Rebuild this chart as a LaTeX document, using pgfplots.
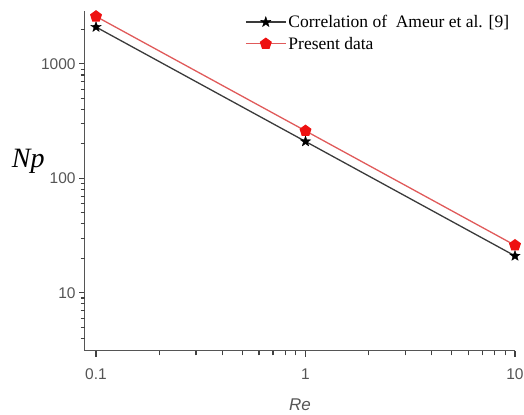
\documentclass[border=0pt]{standalone}
\usepackage{fontspec}
\setmainfont{Liberation Sans}
\newfontfamily\seriffont{Liberation Serif}
\usepackage{pgfplots}
\pgfplotsset{compat=1.18}
\definecolor{axgray}{HTML}{555555}
\definecolor{tickgray}{HTML}{404040}
\definecolor{lineblack}{HTML}{3A3A3A}
\definecolor{linered}{HTML}{E05A5A}
\definecolor{markred}{HTML}{EE1111}
\pgfdeclareplotmark{fstar}{%
  \pgfpathmoveto{\pgfqpointpolar{90}{1.1\pgfplotmarksize}}%
  \pgfpathlineto{\pgfqpointpolar{126}{0.45\pgfplotmarksize}}%
  \pgfpathlineto{\pgfqpointpolar{162}{1.1\pgfplotmarksize}}%
  \pgfpathlineto{\pgfqpointpolar{198}{0.45\pgfplotmarksize}}%
  \pgfpathlineto{\pgfqpointpolar{234}{1.1\pgfplotmarksize}}%
  \pgfpathlineto{\pgfqpointpolar{270}{0.45\pgfplotmarksize}}%
  \pgfpathlineto{\pgfqpointpolar{306}{1.1\pgfplotmarksize}}%
  \pgfpathlineto{\pgfqpointpolar{342}{0.45\pgfplotmarksize}}%
  \pgfpathlineto{\pgfqpointpolar{18}{1.1\pgfplotmarksize}}%
  \pgfpathlineto{\pgfqpointpolar{54}{0.45\pgfplotmarksize}}%
  \pgfpathclose
  \pgfusepathqfillstroke}
\begin{document}
\begin{tikzpicture}
\begin{axis}[
  scale only axis,
  width=430pt, height=340pt,
  xmode=log, ymode=log,
  xmin=0.0886, xmax=10,
  ymin=3.1, ymax=2900,
  axis x line*=bottom, axis y line*=left,
  axis line style={axgray, line width=1pt},
  every tick/.style={tickgray, line width=1.1pt},
  tick align=outside,
  major tick length=6pt,
  xtick={0.1,1,10}, xticklabels={0.1,1,10},
  ytick={10,100,1000}, yticklabels={10,100,1000},
  extra x ticks={0.2,0.3,0.4,0.5,0.6,0.7,0.8,0.9,2,3,4,5,6,7,8,9},
  extra x tick labels={},
  extra x tick style={major tick length=4.5pt},
  extra y ticks={4,5,6,7,8,9,20,30,40,50,60,70,80,90,200,300,400,500,600,700,800,900,2000},
  extra y tick labels={},
  extra y tick style={major tick length=4.5pt},
  ticklabel style={font=\fontsize{15.5}{17}\selectfont, text=axgray},
  xticklabel style={yshift=-8pt},
  /pgf/number format/assume math mode=true,
  xlabel={\textit{Re}},
  xlabel style={font=\fontsize{17}{19}\selectfont, text=axgray, yshift=-2pt},
  ylabel={\seriffont\itshape Np},
  ylabel style={rotate=-90, font=\fontsize{28}{30}\selectfont, yshift=20pt, xshift=21pt},
  legend style={at={(0.365,1.0)}, anchor=north west, draw=none, fill=none,
    font=\seriffont\fontsize{17.5}{20}\selectfont, row sep=4pt,
    cells={anchor=west}},
  legend image code/.code={\draw[mark repeat=2,mark phase=2,#1] plot coordinates {(0pt,0pt) (20pt,0pt) (40pt,0pt)};},
  clip=false,
]
\addplot[lineblack, line width=1.3pt, mark=fstar, mark size=5pt, mark options={fill=black, draw=black, line width=0.3pt, solid}]
  coordinates {(0.1,2100) (1,210) (10,21)};
\addlegendentry{Correlation of \ Ameur et al. [9]}
\addplot[linered, line width=1.3pt, mark=pentagon*, mark size=5.5pt, mark options={fill=markred, draw=markred}]
  coordinates {(0.1,2600) (1,260) (10,26)};
\addlegendentry{Present data}
\end{axis}
\pgfresetboundingbox
\path ([shift={(-85pt,-64pt)}]current axis.south west) rectangle ([shift={(9pt,11pt)}]current axis.north east);
\end{tikzpicture}
\end{document}
